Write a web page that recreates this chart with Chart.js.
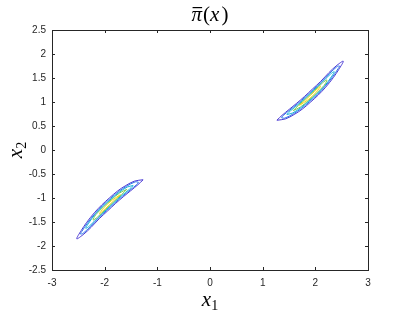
<!DOCTYPE html>
<html>
<head>
<meta charset="utf-8">
<script src="https://cdn.jsdelivr.net/npm/chart.js@4.4.1/dist/chart.umd.min.js"></script>
<style>
  html, body { margin: 0; padding: 0; background: #ffffff; }
  #wrap { width: 407px; height: 314px; }
</style>
</head>
<body>
<div id="wrap"><canvas id="chart" width="407" height="314"></canvas></div>
<script>
// tick values
const x1Ticks = [-3, -2, -1, 0, 1, 2, 3];
const x2Ticks = [-2.5, -2, -1.5, -1, -0.5, 0, 0.5, 1, 1.5, 2, 2.5];

// contour levels (outermost first)
const levelColors = ['#4a3ad4', '#2b78ea', '#17b4d6', '#86cc52', '#f4d824'];

// upper-right mode
const upperL1 = [[1.27,0.62],[1.367,0.722],[1.503,0.846],[1.647,0.975],[1.797,1.118],[1.947,1.272],[2.103,1.431],[2.26,1.614],[2.393,1.749],[2.53,1.85],[2.447,1.681],[2.34,1.506],[2.197,1.309],[2.053,1.142],[1.903,0.992],[1.753,0.852],[1.597,0.739],[1.433,0.648],[1.27,0.62]];
const upperL2 = [[1.36,0.67],[1.38,0.71],[1.517,0.833],[1.66,0.961],[1.81,1.104],[1.96,1.258],[2.117,1.415],[2.273,1.597],[2.407,1.733],[2.46,1.75],[2.433,1.695],[2.327,1.523],[2.183,1.325],[2.04,1.158],[1.89,1.008],[1.74,0.868],[1.583,0.755],[1.42,0.664],[1.36,0.67]];
const upperL3 = [[1.46,0.74],[1.53,0.818],[1.673,0.946],[1.821,1.092],[1.971,1.246],[2.123,1.405],[2.287,1.581],[2.36,1.63],[2.313,1.539],[2.177,1.335],[2.029,1.172],[1.879,1.022],[1.727,0.885],[1.57,0.772],[1.46,0.74]];
const upperL4 = [[1.58,0.82],[1.684,0.935],[1.83,1.082],[1.98,1.236],[2.134,1.394],[2.22,1.46],[2.166,1.346],[2.02,1.182],[1.87,1.032],[1.716,0.896],[1.58,0.82]];
const upperL5 = [[1.70,0.93],[1.841,1.07],[1.991,1.224],[2.10,1.33],[2.009,1.196],[1.859,1.046],[1.70,0.93]];

// lower-left mode
const lowerL1 = [[-1.27,-0.62],[-1.367,-0.722],[-1.503,-0.846],[-1.647,-0.975],[-1.797,-1.118],[-1.947,-1.272],[-2.103,-1.431],[-2.26,-1.614],[-2.393,-1.749],[-2.53,-1.85],[-2.447,-1.681],[-2.34,-1.506],[-2.197,-1.309],[-2.053,-1.142],[-1.903,-0.992],[-1.753,-0.852],[-1.597,-0.739],[-1.433,-0.648],[-1.27,-0.62]];
const lowerL2 = [[-1.36,-0.67],[-1.38,-0.71],[-1.517,-0.833],[-1.66,-0.961],[-1.81,-1.104],[-1.96,-1.258],[-2.117,-1.415],[-2.273,-1.597],[-2.407,-1.733],[-2.46,-1.75],[-2.433,-1.695],[-2.327,-1.523],[-2.183,-1.325],[-2.04,-1.158],[-1.89,-1.008],[-1.74,-0.868],[-1.583,-0.755],[-1.42,-0.664],[-1.36,-0.67]];
const lowerL3 = [[-1.46,-0.74],[-1.53,-0.818],[-1.673,-0.946],[-1.821,-1.092],[-1.971,-1.246],[-2.123,-1.405],[-2.287,-1.581],[-2.36,-1.63],[-2.313,-1.539],[-2.177,-1.335],[-2.029,-1.172],[-1.879,-1.022],[-1.727,-0.885],[-1.57,-0.772],[-1.46,-0.74]];
const lowerL4 = [[-1.58,-0.82],[-1.684,-0.935],[-1.83,-1.082],[-1.98,-1.236],[-2.134,-1.394],[-2.22,-1.46],[-2.166,-1.346],[-2.02,-1.182],[-1.87,-1.032],[-1.716,-0.896],[-1.58,-0.82]];
const lowerL5 = [[-1.70,-0.93],[-1.841,-1.07],[-1.991,-1.224],[-2.10,-1.33],[-2.009,-1.196],[-1.859,-1.046],[-1.70,-0.93]];

const upperLevels = [upperL1, upperL2, upperL3, upperL4, upperL5];
const lowerLevels = [lowerL1, lowerL2, lowerL3, lowerL4, lowerL5];

function contourSet(name, levels) {
    return levels.map((pts, i) => ({
        label: name + ' ' + (i + 1),
        data: pts.map(p => ({ x: p[0], y: p[1] })),
        showLine: true,
        borderColor: levelColors[i],
        borderWidth: 1,
        pointRadius: 0,
        tension: 0.35,
        fill: false
    }));
}

const axisColor = '#262626';

// frame, inward ticks, title and axis labels (MATLAB look)
const boxPlugin = {
    id: 'boxPlugin',
    afterDraw(chart) {
        const ctx = chart.ctx;
        const a = chart.chartArea;
        const xs = chart.scales.x, ys = chart.scales.y;
        ctx.save();
        ctx.strokeStyle = axisColor;
        ctx.lineWidth = 1;
        ctx.strokeRect(Math.round(a.left) + 0.5, Math.round(a.top) + 0.5,
            Math.round(a.right - a.left), Math.round(a.bottom - a.top));
        const len = 3;
        ctx.beginPath();
        x1Ticks.forEach(v => {
            const px = Math.round(xs.getPixelForValue(v)) + 0.5;
            ctx.moveTo(px, a.bottom); ctx.lineTo(px, a.bottom - len);
            ctx.moveTo(px, a.top); ctx.lineTo(px, a.top + len);
        });
        x2Ticks.forEach(v => {
            const py = Math.round(ys.getPixelForValue(v)) + 0.5;
            ctx.moveTo(a.left, py); ctx.lineTo(a.left + len, py);
            ctx.moveTo(a.right, py); ctx.lineTo(a.right - len, py);
        });
        ctx.stroke();

        ctx.fillStyle = '#000000';
        ctx.textBaseline = 'alphabetic';

        // title: pi-bar(x)
        const big = '21px "Liberation Serif"';
        const bigIt = 'italic 21px "Liberation Serif"';
        ctx.font = bigIt;
        const wPi = ctx.measureText('π').width;
        const wX = ctx.measureText('x').width;
        ctx.font = big;
        const wP = ctx.measureText('(').width;
        const total = wPi + wP * 2 + wX + 3;
        let tx = (a.left + a.right) / 2 - total / 2;
        const ty = 21;
        ctx.font = bigIt;
        ctx.fillText('π', tx, ty);
        ctx.fillRect(tx + 1, ty - 14, wPi - 1, 1.2);
        tx += wPi + 1;
        ctx.font = big;
        ctx.fillText('(', tx, ty); tx += wP;
        ctx.font = bigIt;
        ctx.fillText('x', tx, ty); tx += wX + 2;
        ctx.font = big;
        ctx.fillText(')', tx, ty);

        // x1 label
        const lab = 'italic 21px "Liberation Serif"';
        const sub = '14px "Liberation Serif"';
        ctx.font = lab;
        const wx = ctx.measureText('x').width;
        ctx.font = sub;
        const w1 = ctx.measureText('1').width;
        let lx = (a.left + a.right) / 2 - (wx + w1) / 2;
        ctx.font = lab;
        ctx.fillText('x', lx, 306);
        ctx.font = sub;
        ctx.fillText('1', lx + wx, 310);

        // x2 label, rotated
        ctx.translate(22, (a.top + a.bottom) / 2);
        ctx.rotate(-Math.PI / 2);
        ctx.font = sub;
        const w2 = ctx.measureText('2').width;
        lx = -(wx + w2) / 2;
        ctx.font = lab;
        ctx.fillText('x', lx, 0);
        ctx.font = sub;
        ctx.fillText('2', lx + wx, 4);
        ctx.restore();
    }
};

new Chart(document.getElementById('chart').getContext('2d'), {
    type: 'scatter',
    data: {
        datasets: [...contourSet('upper', upperLevels), ...contourSet('lower', lowerLevels)]
    },
    options: {
        responsive: false,
        animation: false,
        devicePixelRatio: 1,
        layout: { padding: { top: 30, right: 39, left: 0, bottom: 0 } },
        plugins: {
            legend: { display: false },
            title: { display: false },
            tooltip: { enabled: false }
        },
        scales: {
            x: {
                type: 'linear',
                min: -3,
                max: 3,
                afterBuildTicks: s => { s.ticks = x1Ticks.map(v => ({ value: v })); },
                afterFit: s => { s.height = 44; },
                grid: { display: false, drawTicks: false },
                border: { display: false },
                ticks: {
                    padding: 7,
                    color: axisColor,
                    font: { family: 'Liberation Sans', size: 10 },
                    maxRotation: 0,
                    callback: v => String(v)
                }
            },
            y: {
                type: 'linear',
                min: -2.5,
                max: 2.5,
                afterBuildTicks: s => { s.ticks = x2Ticks.map(v => ({ value: v })); },
                afterFit: s => { s.width = 52; },
                grid: { display: false, drawTicks: false },
                border: { display: false },
                ticks: {
                    padding: 6,
                    color: axisColor,
                    font: { family: 'Liberation Sans', size: 10 },
                    callback: v => String(v)
                }
            }
        }
    },
    plugins: [boxPlugin]
});
</script>
</body>
</html>
